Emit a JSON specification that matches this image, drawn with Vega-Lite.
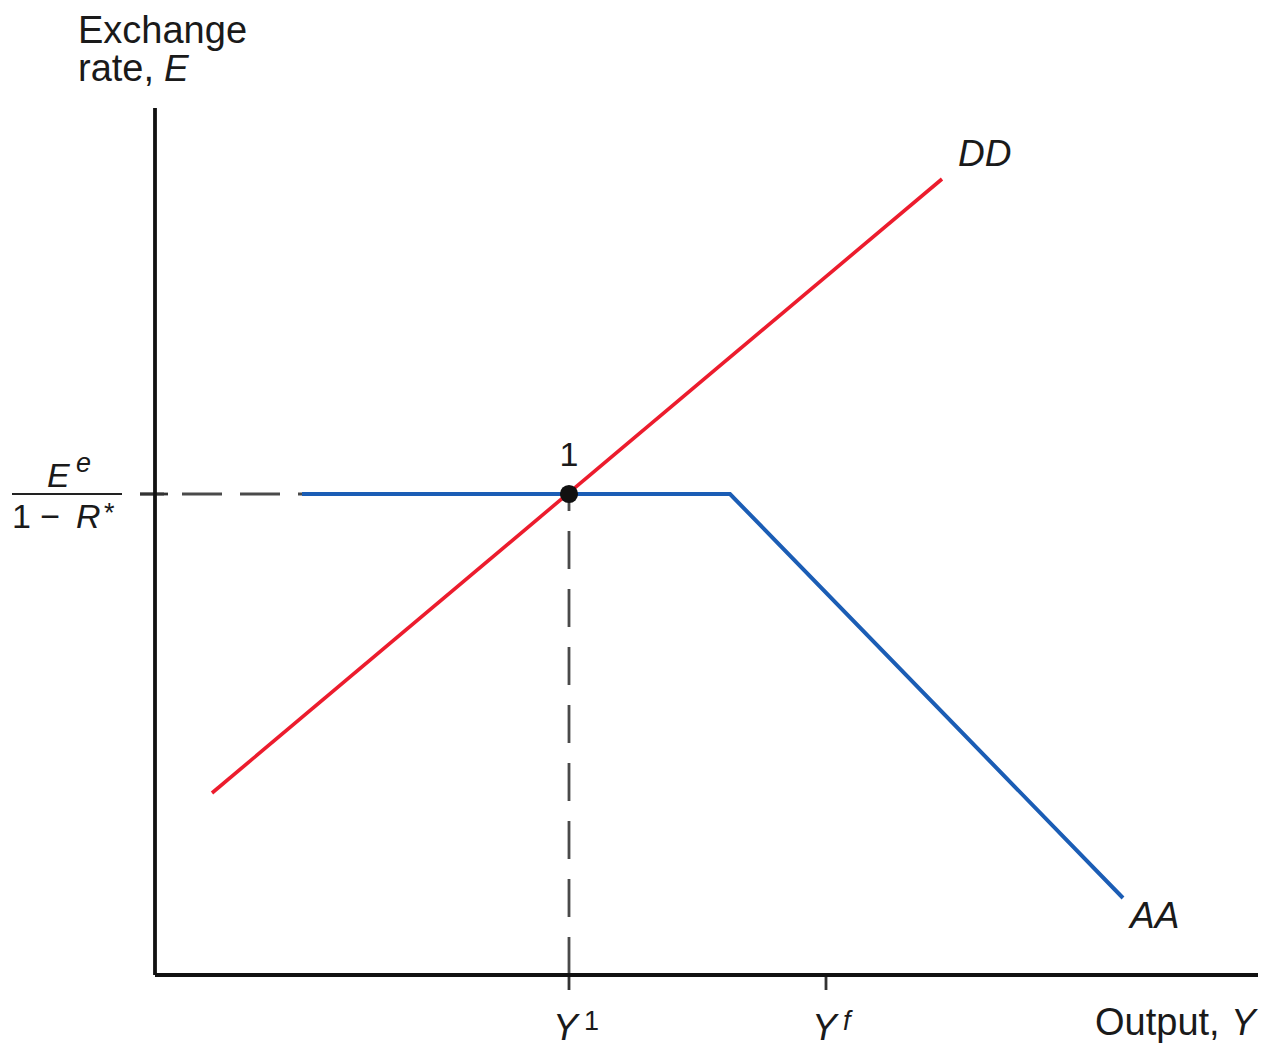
{
  "$schema": "https://vega.github.io/schema/vega-lite/v6.json",
  "width": 1264,
  "height": 1044,
  "padding": 0,
  "autosize": {"type": "none"},
  "background": "white",
  "config": {"view": {"stroke": null}},
  "datasets": {
    "axes": [
      {"x": 0, "y": 86.7, "x2": 0, "y2": 0},
      {"x": 0, "y": 0, "x2": 110.3, "y2": 0}
    ],
    "ticks": [
      {"x": -1.5, "y": 48.1, "x2": 1.3, "y2": 48.1},
      {"x": 41.4, "y": 0, "x2": 41.4, "y2": -1.5},
      {"x": 67.1, "y": 0, "x2": 67.1, "y2": -1.5}
    ],
    "hdash": [{"x": -1.5, "y": 48.1, "x2": 14.7, "y2": 48.1}],
    "vdash": [{"x": 41.4, "y": 48.1, "x2": 41.4, "y2": 0}],
    "bar": [{"x": -14.3, "y": 48.1, "x2": -3.3, "y2": 48.1}],
    "dd": [
      {"order": 1, "x": 5.7, "y": 18.2},
      {"order": 2, "x": 78.7, "y": 79.6}
    ],
    "aa": [
      {"order": 1, "x": 14.7, "y": 48.1},
      {"order": 2, "x": 57.5, "y": 48.1},
      {"order": 3, "x": 96.8, "y": 7.7}
    ],
    "eq": [{"x": 41.4, "y": 48.1}],
    "normal36": [
      {"x": -7.7, "y": 93.2, "label": "Exchange"},
      {"x": -7.7, "y": 89.4, "label": "rate,"},
      {"x": 94.0, "y": -6.0, "label": "Output,"}
    ],
    "italic36": [
      {"x": 0.9, "y": 89.4, "label": "E"},
      {"x": 80.3, "y": 80.9, "label": "DD"},
      {"x": 97.5, "y": 4.7, "label": "AA"},
      {"x": 107.6, "y": -6.0, "label": "Y"},
      {"x": 39.8, "y": -6.5, "label": "Y"},
      {"x": 65.7, "y": -6.5, "label": "Y"}
    ],
    "normal32": [
      {"x": -14.3, "y": 44.7, "label": "1 −"}
    ],
    "italic32": [
      {"x": -10.8, "y": 48.8, "label": "E"},
      {"x": -7.9, "y": 44.7, "label": "R"}
    ],
    "center32": [
      {"x": 41.4, "y": 50.9, "label": "1"}
    ],
    "sup": [
      {"x": -5.1, "y": 45.3, "label": "*"},
      {"x": 42.9, "y": -5.5, "label": "1"}
    ],
    "supi": [
      {"x": -7.9, "y": 50.3, "label": "e"},
      {"x": 68.8, "y": -5.5, "label": "f"}
    ]
  },
  "encoding": {
    "x": {"field": "x", "type": "quantitative", "scale": {"domain": [-15.5, 110.9], "nice": false, "zero": false}, "axis": null},
    "y": {"field": "y", "type": "quantitative", "scale": {"domain": [-6.9, 97.5], "nice": false, "zero": false}, "axis": null}
  },
  "layer": [
    {
      "data": {"name": "hdash"},
      "mark": {"type": "rule", "color": "#4a4a4a", "strokeWidth": 2.8, "strokeDash": [40, 18], "strokeDashOffset": 16},
      "encoding": {"x2": {"field": "x2"}, "y2": {"field": "y2"}}
    },
    {
      "data": {"name": "vdash"},
      "mark": {"type": "rule", "color": "#4a4a4a", "strokeWidth": 2.8, "strokeDash": [38, 20], "strokeDashOffset": 21},
      "encoding": {"x2": {"field": "x2"}, "y2": {"field": "y2"}}
    },
    {
      "data": {"name": "ticks"},
      "mark": {"type": "rule", "color": "#333333", "strokeWidth": 2.8},
      "encoding": {"x2": {"field": "x2"}, "y2": {"field": "y2"}}
    },
    {
      "data": {"name": "axes"},
      "mark": {"type": "rule", "color": "#111111", "strokeWidth": 3.8},
      "encoding": {"x2": {"field": "x2"}, "y2": {"field": "y2"}}
    },
    {
      "data": {"name": "bar"},
      "mark": {"type": "rule", "color": "#222222", "strokeWidth": 2.2},
      "encoding": {"x2": {"field": "x2"}, "y2": {"field": "y2"}}
    },
    {
      "data": {"name": "dd"},
      "mark": {"type": "line", "color": "#ec1c2d", "strokeWidth": 3.6},
      "encoding": {"order": {"field": "order", "type": "quantitative"}}
    },
    {
      "data": {"name": "aa"},
      "mark": {"type": "line", "color": "#1b5db5", "strokeWidth": 4},
      "encoding": {"order": {"field": "order", "type": "quantitative"}}
    },
    {
      "data": {"name": "eq"},
      "mark": {"type": "point", "filled": true, "color": "#111111", "size": 330, "opacity": 1}
    },
    {
      "data": {"name": "normal36"},
      "mark": {"type": "text", "font": "Liberation Sans", "fontSize": 38, "align": "left", "baseline": "alphabetic", "color": "#1a1a1a"},
      "encoding": {"text": {"field": "label"}}
    },
    {
      "data": {"name": "italic36"},
      "mark": {"type": "text", "font": "Liberation Sans", "fontSize": 37, "fontStyle": "italic", "align": "left", "baseline": "alphabetic", "color": "#1a1a1a"},
      "encoding": {"text": {"field": "label"}}
    },
    {
      "data": {"name": "normal32"},
      "mark": {"type": "text", "font": "Liberation Sans", "fontSize": 34, "align": "left", "baseline": "alphabetic", "color": "#1a1a1a"},
      "encoding": {"text": {"field": "label"}}
    },
    {
      "data": {"name": "italic32"},
      "mark": {"type": "text", "font": "Liberation Sans", "fontSize": 34, "fontStyle": "italic", "align": "left", "baseline": "alphabetic", "color": "#1a1a1a"},
      "encoding": {"text": {"field": "label"}}
    },
    {
      "data": {"name": "center32"},
      "mark": {"type": "text", "font": "Liberation Sans", "fontSize": 34, "align": "center", "baseline": "alphabetic", "color": "#1a1a1a"},
      "encoding": {"text": {"field": "label"}}
    },
    {
      "data": {"name": "sup"},
      "mark": {"type": "text", "font": "Liberation Sans", "fontSize": 27, "align": "left", "baseline": "alphabetic", "color": "#1a1a1a"},
      "encoding": {"text": {"field": "label"}}
    },
    {
      "data": {"name": "supi"},
      "mark": {"type": "text", "font": "Liberation Sans", "fontSize": 27, "fontStyle": "italic", "align": "left", "baseline": "alphabetic", "color": "#1a1a1a"},
      "encoding": {"text": {"field": "label"}}
    }
  ]
}
